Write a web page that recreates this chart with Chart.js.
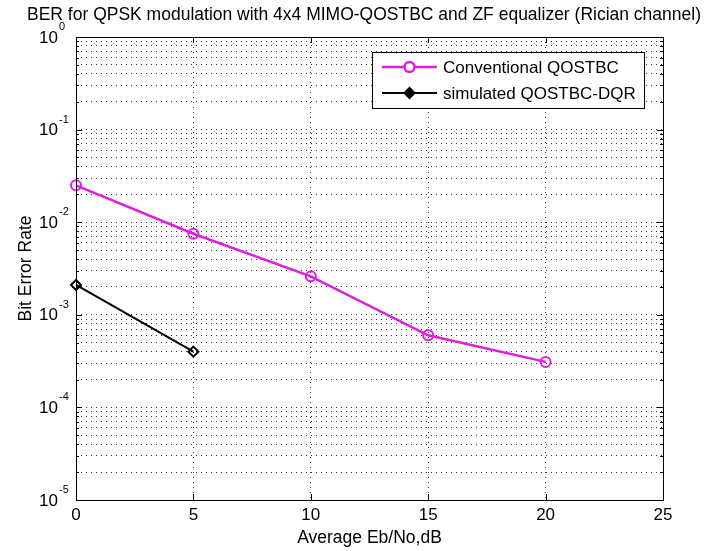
<!DOCTYPE html>
<html>
<head>
<meta charset="utf-8">
<script src="https://cdn.jsdelivr.net/npm/chart.js@4.4.1/dist/chart.umd.min.js"></script>
<style>
  html, body { margin: 0; padding: 0; background: #fff; }
  #wrap { width: 707px; height: 551px; }
</style>
</head>
<body>
<div id="wrap"><canvas id="c" width="707" height="551"></canvas></div>
<script>
// data
var ebno = [0, 5, 10, 15, 20];
var berConventional = [0.025, 0.0075, 0.0026, 0.0006, 0.00031];
var ebnoDqr = [0, 5];
var berDqr = [0.0021, 0.0004];
var xTickValues = [0, 5, 10, 15, 20, 25];
var yDecadeValues = [1, 0.1, 0.01, 0.001, 0.0001, 0.00001];
var yDecadeExponents = ['0', '-1', '-2', '-3', '-4', '-5'];
var seriesNames = ['Conventional QOSTBC', 'simulated QOSTBC-DQR'];
var titleText = 'BER for QPSK modulation with 4x4 MIMO-QOSTBC and ZF equalizer (Rician channel)';
var xTitle = 'Average Eb/No,dB';
var yTitle = 'Bit Error Rate';

var FONT = '"Liberation Sans", Arial, sans-serif';
var MAGENTA = '#e01ee0';
var GRID = 'rgba(30,30,30,0.9)';

function toPoints(xs, ys) {
  return xs.map(function (x, i) { return { x: x, y: ys[i] }; });
}

function logMinorTicks(min, max) {
  var out = [];
  for (var e = Math.round(Math.log10(min)); e <= Math.round(Math.log10(max)); e += 1) {
    for (var m = 1; m <= 9; m += 1) {
      var v = m * Math.pow(10, e);
      if (v >= min * 0.999 && v <= max * 1.001) out.push({ value: v, major: m === 1 });
    }
  }
  return out;
}

var frameAndText = {
  id: 'frameAndText',
  afterDraw: function (chart) {
    var ctx = chart.ctx;
    var a = chart.chartArea;
    var xs = chart.scales.x;
    var ys = chart.scales.y;
    ctx.save();

    // axes box
    ctx.strokeStyle = '#000';
    ctx.lineWidth = 1;
    ctx.strokeRect(Math.round(a.left) + 0.5, Math.round(a.top) + 0.5,
      Math.round(a.right - a.left), Math.round(a.bottom - a.top));

    // inward tick marks
    ctx.beginPath();
    xTickValues.forEach(function (v) {
      var px = Math.round(xs.getPixelForValue(v)) + 0.5;
      ctx.moveTo(px, a.bottom); ctx.lineTo(px, a.bottom - 6);
      ctx.moveTo(px, a.top); ctx.lineTo(px, a.top + 6);
    });
    logMinorTicks(1e-5, 1).forEach(function (t) {
      var py = Math.round(ys.getPixelForValue(t.value)) + 0.5;
      var len = t.major ? 6 : 3;
      ctx.moveTo(a.left, py); ctx.lineTo(a.left + len, py);
      ctx.moveTo(a.right, py); ctx.lineTo(a.right - len, py);
    });
    ctx.stroke();

    ctx.fillStyle = '#000';
    // title
    ctx.font = '17.5px ' + FONT;
    ctx.textAlign = 'center';
    ctx.textBaseline = 'middle';
    ctx.fillText(titleText, 364, 15);

    // x tick labels
    ctx.font = '17px ' + FONT;
    xTickValues.forEach(function (v) {
      ctx.fillText(String(v), xs.getPixelForValue(v), 515);
    });

    // x title
    ctx.font = '17.5px ' + FONT;
    ctx.fillText(xTitle, (a.left + a.right) / 2, 538);

    // y title
    ctx.save();
    ctx.translate(26, (a.top + a.bottom) / 2);
    ctx.rotate(-Math.PI / 2);
    ctx.fillText(yTitle, 0, 0);
    ctx.restore();

    // y decade labels: 10 with raised exponent
    yDecadeValues.forEach(function (v, i) {
      var py = ys.getPixelForValue(v);
      ctx.font = '17px ' + FONT;
      ctx.textAlign = 'right';
      ctx.textBaseline = 'middle';
      ctx.fillText('10', 58, py + 1);
      ctx.font = '11px ' + FONT;
      ctx.textAlign = 'left';
      ctx.fillText(yDecadeExponents[i], 59, py - 10);
    });

    // legend
    var lx = 372, ly = 52, lw = 272, lh = 56;
    ctx.fillStyle = '#fff';
    ctx.fillRect(lx, ly, lw, lh);
    ctx.strokeStyle = '#000';
    ctx.lineWidth = 1;
    ctx.strokeRect(lx + 0.5, ly + 0.5, lw, lh);
    chart.data.datasets.forEach(function (ds, i) {
      var rowY = ly + 15 + i * 26;
      ctx.strokeStyle = ds.borderColor;
      ctx.lineWidth = ds.borderWidth;
      ctx.beginPath();
      ctx.moveTo(382, rowY); ctx.lineTo(437, rowY);
      ctx.stroke();
      Chart.helpers.drawPoint(ctx, {
        pointStyle: ds.pointStyle, radius: ds.pointRadius, rotation: 0,
        borderWidth: ds.pointBorderWidth
      }, 409.5, rowY);
      ctx.fillStyle = '#000';
      ctx.font = '17px ' + FONT;
      ctx.textAlign = 'left';
      ctx.textBaseline = 'middle';
      ctx.fillText(ds.label, 443, rowY + 1);
    });
    ctx.restore();
  }
};

var gridOpts = {
  color: GRID,
  lineWidth: 1,
  drawTicks: false,
  tickLength: 0
};

new Chart(document.getElementById('c'), {
  type: 'line',
  data: {
    datasets: [
      {
        label: seriesNames[0],
        data: toPoints(ebno, berConventional),
        borderColor: MAGENTA,
        backgroundColor: 'rgba(0,0,0,0)',
        borderWidth: 2.5,
        pointStyle: 'circle',
        pointRadius: 5,
        pointBorderWidth: 2,
        pointBorderColor: MAGENTA,
        pointBackgroundColor: 'rgba(0,0,0,0)',
        tension: 0,
        clip: false
      },
      {
        label: seriesNames[1],
        data: toPoints(ebnoDqr, berDqr),
        borderColor: '#000',
        backgroundColor: 'rgba(0,0,0,0)',
        borderWidth: 2,
        pointStyle: 'rectRot',
        pointRadius: 5,
        pointBorderWidth: 2,
        pointBorderColor: '#000',
        pointBackgroundColor: 'rgba(0,0,0,0)',
        tension: 0,
        clip: false
      }
    ]
  },
  options: {
    responsive: false,
    animation: false,
    layout: { padding: { left: 76, right: 44, top: 37, bottom: 51 } },
    plugins: {
      legend: { display: false },
      title: { display: false },
      tooltip: { enabled: false }
    },
    scales: {
      x: {
        type: 'linear',
        min: 0,
        max: 25,
        afterBuildTicks: function (scale) {
          scale.ticks = xTickValues.map(function (v) { return { value: v }; });
        },
        ticks: { display: false },
        grid: Object.assign({}, gridOpts),
        border: { display: false, dash: [1, 4] }
      },
      y: {
        type: 'logarithmic',
        min: 1e-5,
        max: 1,
        afterBuildTicks: function (scale) {
          scale.ticks = logMinorTicks(1e-5, 1).map(function (t) { return { value: t.value }; });
        },
        ticks: { display: false },
        grid: Object.assign({}, gridOpts),
        border: { display: false, dash: [1, 4] }
      }
    }
  },
  plugins: [frameAndText]
});
</script>
</body>
</html>
